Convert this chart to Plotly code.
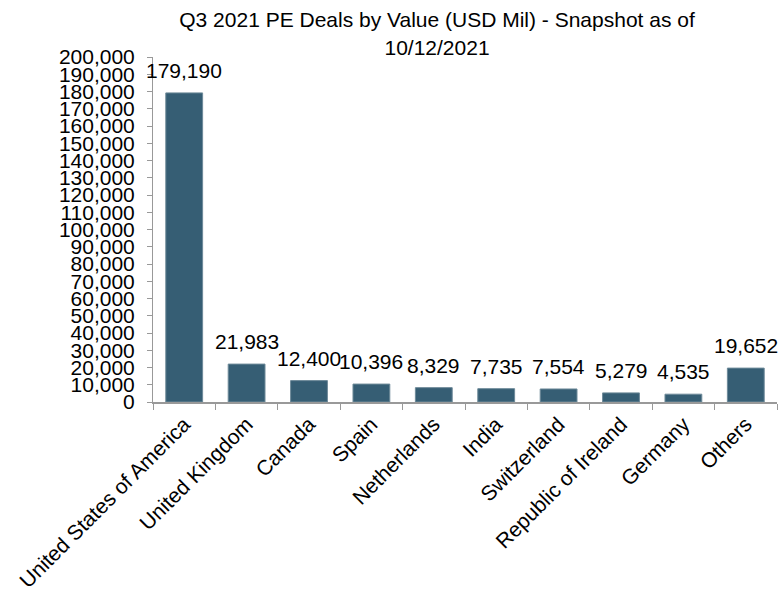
import plotly.graph_objects as go

categories = ["United States of America", "United Kingdom", "Canada", "Spain",
              "Netherlands", "India", "Switzerland", "Republic of Ireland",
              "Germany", "Others"]
values = [179190, 21983, 12400, 10396, 8329, 7735, 7554, 5279, 4535, 19652]
tick_vals = list(range(0, 200001, 10000))
tick_text = [f"{v:,}" for v in tick_vals]

fig = go.Figure(go.Bar(
    x=categories, y=values,
    marker=dict(color="#365E74", line=dict(color="#6E8A99", width=1)),
    width=0.59,
))

for c, v in zip(categories, values):
    fig.add_annotation(x=c, y=v, text=f"{v:,}", showarrow=False,
                       xanchor="center", yanchor="bottom", yshift=9,
                       font=dict(size=21, color="black"))

fig.update_layout(
    width=779, height=593,
    margin=dict(l=153, r=2, t=57, b=191, autoexpand=False),
    paper_bgcolor="white", plot_bgcolor="white",
    font=dict(family="Liberation Sans, Arial, sans-serif", size=21, color="black"),
    title=dict(text="Q3 2021 PE Deals by Value (USD Mil) - Snapshot as of<br>10/12/2021",
               x=0.561, xanchor="center", y=0.954, yanchor="top",
               font=dict(size=21, color="black")),
    showlegend=False,
)
fig.update_xaxes(range=[-0.5, len(categories) - 0.5],
                 showline=True, linecolor="#999999", linewidth=1.5,
                 ticks="outside", tickson="boundaries", ticklen=6, tickcolor="#999999",
                 tickangle=-45, tickfont=dict(size=21), showgrid=False,
                 automargin=False)
fig.update_yaxes(range=[0, 200000], tickvals=tick_vals, ticktext=tick_text,
                 showline=True, linecolor="#999999", linewidth=1,
                 ticks="outside", ticklen=5, tickcolor="#999999",
                 ticklabelstandoff=8,
                 tickfont=dict(size=21), showgrid=False, zeroline=False,
                 automargin=False)

fig.write_html("out.html", config={"displayModeBar": False})

with open("out.html", "r", encoding="utf-8") as f:
    html = f.read()
html = html.replace("<body>", '<body style="margin:0;overflow:hidden">', 1)
with open("out.html", "w", encoding="utf-8") as f:
    f.write(html)
